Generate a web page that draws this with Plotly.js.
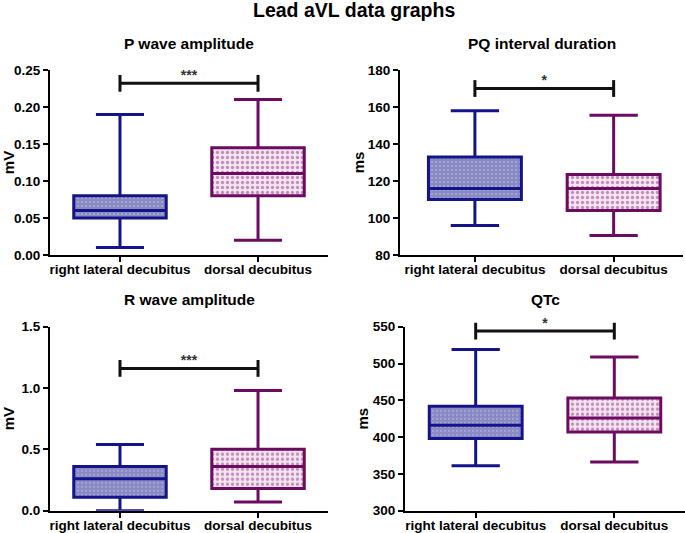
<!DOCTYPE html>
<html>
<head>
<meta charset="utf-8">
<script src="https://cdn.plot.ly/plotly-3.0.1.min.js"></script>
<style>html,body{margin:0;padding:0;background:#fff;}#chart{width:685px;height:533px;}</style>
</head>
<body>
<div id="chart"></div>
<script>
// ---- data ----
const categories = ['right lateral decubitus', 'dorsal decubitus'];
const catPos = [0, 1];

const panelTitles = ['P wave amplitude', 'PQ interval duration', 'R wave amplitude', 'QTc'];
const yTitles = ['mV', 'ms', 'mV', 'ms'];

// P wave amplitude (mV)
const pMin = [0.01, 0.02];
const pQ1 = [0.05, 0.08];
const pMed = [0.06, 0.11];
const pQ3 = [0.08, 0.145];
const pMax = [0.19, 0.21];
const pSig = 0.232, pStars = '***';
const pTicks = [0, 0.05, 0.10, 0.15, 0.20, 0.25];

// PQ interval duration (ms)
const pqMin = [96, 90.5];
const pqQ1 = [110, 104];
const pqMed = [116, 116];
const pqQ3 = [133, 123.5];
const pqMax = [158, 155.5];
const pqSig = 170, pqStars = '*';
const pqTicks = [80, 100, 120, 140, 160, 180];

// R wave amplitude (mV)
const rMin = [0.0, 0.07];
const rQ1 = [0.11, 0.18];
const rMed = [0.26, 0.36];
const rQ3 = [0.36, 0.50];
const rMax = [0.54, 0.98];
const rSig = 1.16, rStars = '***';
const rTicks = [0, 0.5, 1.0, 1.5];

// QTc (ms)
const qMin = [361, 366];
const qQ1 = [398, 407];
const qMed = [416, 426];
const qQ3 = [442, 453];
const qMax = [519, 509];
const qSig = 544, qStars = '*';
const qTicks = [300, 350, 400, 450, 500, 550];

// ---- styling ----
const FONT = 'Liberation Sans, Arial, sans-serif';
const lineColors = ['#14148a', '#6c0c60'];
const patterns = [
  {shape: '.', fgcolor: '#14148a', bgcolor: '#ffffff', size: 4, solidity: 0.85, fillmode: 'overlay'},
  {shape: '.', fgcolor: '#8e3a84', bgcolor: '#f5e4f1', size: 5, solidity: 0.35, fillmode: 'overlay'}
];

const panels = [
  {min: pMin, q1: pQ1, med: pMed, q3: pQ3, max: pMax, sig: pSig, stars: pStars, ticks: pTicks, fmt: '.2f'},
  {min: pqMin, q1: pqQ1, med: pqMed, q3: pqQ3, max: pqMax, sig: pqSig, stars: pqStars, ticks: pqTicks, fmt: 'd'},
  {min: rMin, q1: rQ1, med: rMed, q3: rQ3, max: rMax, sig: rSig, stars: rStars, ticks: rTicks, fmt: '.1f'},
  {min: qMin, q1: qQ1, med: qMed, q3: qQ3, max: qMax, sig: qSig, stars: qStars, ticks: qTicks, fmt: 'd'}
];

const W = 685, H = 533;
// pixel geometry of each panel: [left, right, top, bottom], x range, y-title standoff
const geom = [
  {l: 50, r: 328, t: 70, b: 255, xr: [-0.507, 1.507], so: 6},
  {l: 400, r: 683, t: 70, b: 255, xr: [-0.54, 1.5], so: 0},
  {l: 50, r: 328, t: 326.7, b: 510.7, xr: [-0.507, 1.507], so: 6},
  {l: 405, r: 685, t: 326.7, b: 510.7, xr: [-0.51, 1.51], so: 1}
];

const traces = [];
const layout = {
  width: W, height: H,
  margin: {l: 0, r: 0, t: 0, b: 0},
  paper_bgcolor: '#fff', plot_bgcolor: 'rgba(0,0,0,0)',
  showlegend: false,
  barmode: 'overlay',
  boxmode: 'overlay',
  font: {family: FONT, color: '#000', weight: 'bold'},
  annotations: [{
    text: 'Lead aVL data graphs', xref: 'paper', yref: 'paper',
    x: 354 / W, y: 1 - 10 / H, xanchor: 'center', yanchor: 'middle', showarrow: false,
    font: {family: FONT, size: 19.5, weight: 'bold', color: '#000'}
  }]
};

panels.forEach((p, i) => {
  const n = i + 1;
  const xa = 'x' + (n === 1 ? '' : n), ya = 'y' + (n === 1 ? '' : n);
  const g = geom[i];
  // patterned fills
  for (let k = 0; k < 2; k++) {
    traces.push({
      type: 'bar', x: [catPos[k]], base: [p.q1[k]], y: [p.q3[k] - p.q1[k]],
      width: 0.67, xaxis: xa, yaxis: ya, hoverinfo: 'skip',
      marker: {color: patterns[k].bgcolor, line: {width: 0}, pattern: patterns[k]}
    });
  }
  // boxes
  for (let k = 0; k < 2; k++) {
    traces.push({
      type: 'box', x: [catPos[k]],
      q1: [p.q1[k]], median: [p.med[k]], q3: [p.q3[k]],
      lowerfence: [p.min[k]], upperfence: [p.max[k]],
      width: 0.67, whiskerwidth: 0.52, boxpoints: false,
      fillcolor: 'rgba(0,0,0,0)',
      line: {color: lineColors[k], width: 3},
      xaxis: xa, yaxis: ya, name: categories[k]
    });
  }
  // significance bar
  traces.push({
    type: 'scatter', mode: 'lines+markers', x: [catPos[0], catPos[1]], y: [p.sig, p.sig],
    line: {color: '#111', width: 3},
    marker: {symbol: 'line-ns', size: 12, line: {color: '#111', width: 3}},
    xaxis: xa, yaxis: ya, hoverinfo: 'skip', cliponaxis: false
  });
  traces.push({
    type: 'scatter', mode: 'text', x: [(catPos[0] + catPos[1]) / 2], y: [p.sig],
    text: [p.stars], textposition: 'top center',
    textfont: {family: FONT, size: 14, color: '#333', weight: 'bold'},
    xaxis: xa, yaxis: ya, hoverinfo: 'skip', cliponaxis: false
  });

  const yr = [p.ticks[0], p.ticks[p.ticks.length - 1]];
  layout['xaxis' + (n === 1 ? '' : n)] = {
    domain: [g.l / W, g.r / W], anchor: ya, range: g.xr,
    tickmode: 'array', tickvals: catPos, ticktext: categories,
    showline: true, linecolor: '#000', linewidth: 2,
    ticks: 'outside', ticklen: 5, tickwidth: 2, tickcolor: '#000',
    ticklabelstandoff: -4,
    showgrid: false, zeroline: false, fixedrange: true,
    tickfont: {family: FONT, size: 13.5, color: '#000', weight: 'bold'}
  };
  layout['yaxis' + (n === 1 ? '' : n)] = {
    domain: [1 - g.b / H, 1 - g.t / H], anchor: xa, range: yr,
    tickmode: 'array', tickvals: p.ticks,
    ticktext: p.ticks.map(v => p.fmt === 'd' ? String(v) : v.toFixed(p.fmt === '.2f' ? 2 : 1)),
    showline: true, linecolor: '#000', linewidth: 2,
    ticks: 'outside', ticklen: 5, tickwidth: 2, tickcolor: '#000',
    showgrid: false, zeroline: false, fixedrange: true,
    tickfont: {family: FONT, size: 13.5, color: '#000', weight: 'bold'},
    title: {text: yTitles[i], font: {family: FONT, size: 15, color: '#000', weight: 'bold'}, standoff: g.so}
  };
  layout.annotations.push({
    text: panelTitles[i], xref: 'paper', yref: 'paper',
    x: (g.l + g.r) / 2 / W, y: 1 - (g.t - 27) / H, xanchor: 'center', yanchor: 'middle', showarrow: false,
    font: {family: FONT, size: 15.5, weight: 'bold', color: '#000'}
  });
});

Plotly.newPlot('chart', traces, layout, {staticPlot: true, displayModeBar: false});
</script>
</body>
</html>
